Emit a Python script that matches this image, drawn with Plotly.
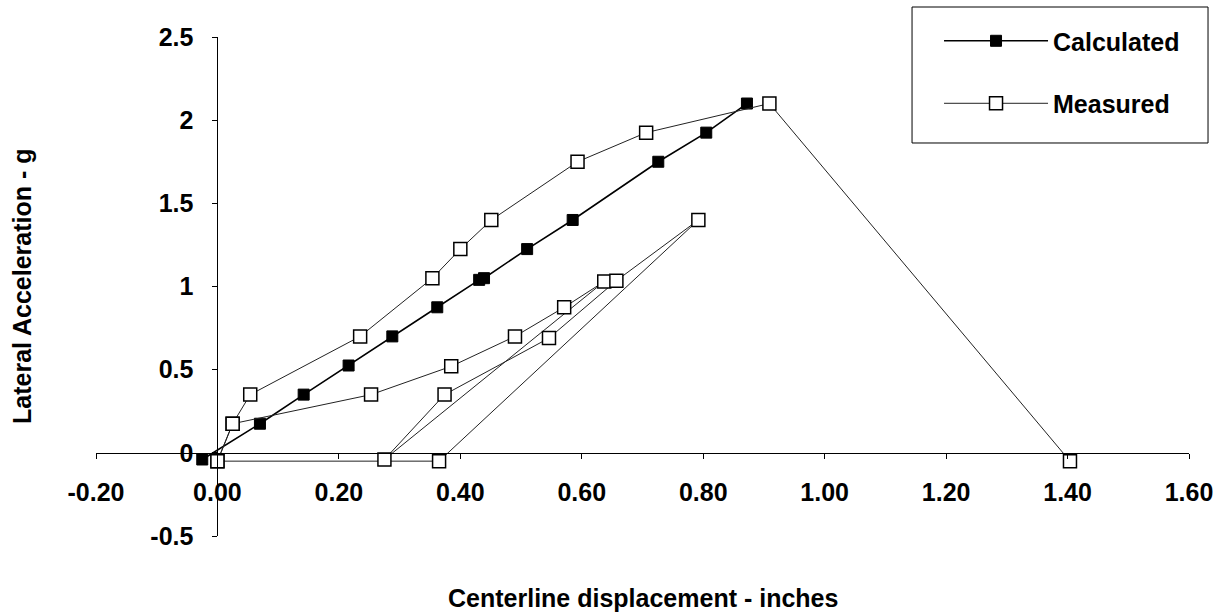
import plotly.graph_objects as go

# ---- data ----
calc_x = [-0.025, 0.070, 0.142, 0.216, 0.288, 0.362, 0.431, 0.439, 0.510, 0.585, 0.726, 0.805, 0.872]
calc_y = [-0.04, 0.175, 0.35, 0.525, 0.70, 0.875, 1.04, 1.05, 1.225, 1.40, 1.75, 1.925, 2.10]

meas_x = [0.000, 0.025, 0.253, 0.385, 0.490, 0.571, 0.637, 0.275, 0.374, 0.546, 0.657, 0.792,
          0.365, 0.000, 0.025, 0.054, 0.235, 0.354, 0.400, 0.451, 0.593, 0.706, 0.909, 1.404]
meas_y = [-0.05, 0.175, 0.35, 0.52, 0.70, 0.875, 1.03, -0.04, 0.35, 0.69, 1.035, 1.40,
          -0.05, -0.05, 0.175, 0.35, 0.70, 1.05, 1.225, 1.40, 1.75, 1.925, 2.10, -0.05]

x_ticks = [-0.2, 0.0, 0.2, 0.4, 0.6, 0.8, 1.0, 1.2, 1.4, 1.6]
x_ticktext = ["-0.20", "0.00", "0.20", "0.40", "0.60", "0.80", "1.00", "1.20", "1.40", "1.60"]
y_ticks = [-0.5, 0.0, 0.5, 1.0, 1.5, 2.0, 2.5]
y_ticktext = ["-0.5", "0", "0.5", "1", "1.5", "2", "2.5"]

x_range = [-0.2, 1.6]
y_range = [-0.5, 2.5]

FONT = "Liberation Sans, Arial, Helvetica, sans-serif"

fig = go.Figure()
fig.add_trace(go.Scatter(
    x=calc_x, y=calc_y, mode="lines+markers", name="Calculated",
    line=dict(color="black", width=1.6),
    marker=dict(symbol="square", size=11, color="black", line=dict(color="black", width=1)),
    legendgroup="c",
))
fig.add_trace(go.Scatter(
    x=meas_x, y=meas_y, mode="lines+markers", name="Measured",
    line=dict(color="#222222", width=1),
    marker=dict(symbol="square", size=13, color="white", line=dict(color="black", width=1.5)),
    legendgroup="m",
))

# axes cross at the origin
x0_frac = (0 - y_range[0]) / (y_range[1] - y_range[0])
y0_frac = (0 - x_range[0]) / (x_range[1] - x_range[0])

fig.update_layout(
    width=1229, height=615,
    margin=dict(l=96, r=40, t=37, b=79),
    paper_bgcolor="white", plot_bgcolor="white",
    font=dict(family=FONT, size=25, color="black", weight="bold"),
    showlegend=True,
    legend=dict(
        x=0.7713, y=1.038, xanchor="left", yanchor="top",
        borderwidth=0, bgcolor="rgba(0,0,0,0)",
        font=dict(family=FONT, size=25, color="black", weight="bold"),
        itemwidth=104, tracegroupgap=27, traceorder="grouped",
    ),
    shapes=[
        dict(type="rect", xref="paper", yref="paper",
             x0=0.7466, x1=1.0174, y0=0.7876, y1=1.0601,
             line=dict(color="black", width=1), fillcolor="white", layer="below"),
    ],
    xaxis=dict(
        range=x_range, tickmode="array", tickvals=x_ticks, ticktext=x_ticktext,
        showgrid=False, zeroline=False, showline=True, linecolor="black", linewidth=1,
        ticks="outside", ticklen=5, tickcolor="black", tickwidth=1,
        anchor="free", position=x0_frac, ticklabelstandoff=12,
        tickfont=dict(family=FONT, size=25, color="black", weight="bold"),
    ),
    yaxis=dict(
        range=y_range, tickmode="array", tickvals=y_ticks, ticktext=y_ticktext,
        showgrid=False, zeroline=False, showline=True, linecolor="black", linewidth=1,
        ticks="outside", ticklen=5, tickcolor="black", tickwidth=1,
        anchor="free", position=y0_frac, ticklabelstandoff=14,
        tickfont=dict(family=FONT, size=25, color="black", weight="bold"),
    ),
    annotations=[
        dict(text="Centerline displacement - inches", xref="paper", yref="paper",
             x=0.5004, y=-0.124, xanchor="center", yanchor="middle", showarrow=False,
             font=dict(family=FONT, size=25, color="black", weight="bold")),
        dict(text="Lateral Acceleration - g", xref="paper", yref="paper",
             x=-0.0677, y=0.501, xanchor="center", yanchor="middle", showarrow=False,
             textangle=-90,
             font=dict(family=FONT, size=25, color="black", weight="bold")),
    ],
)

fig.write_html("out.html")
